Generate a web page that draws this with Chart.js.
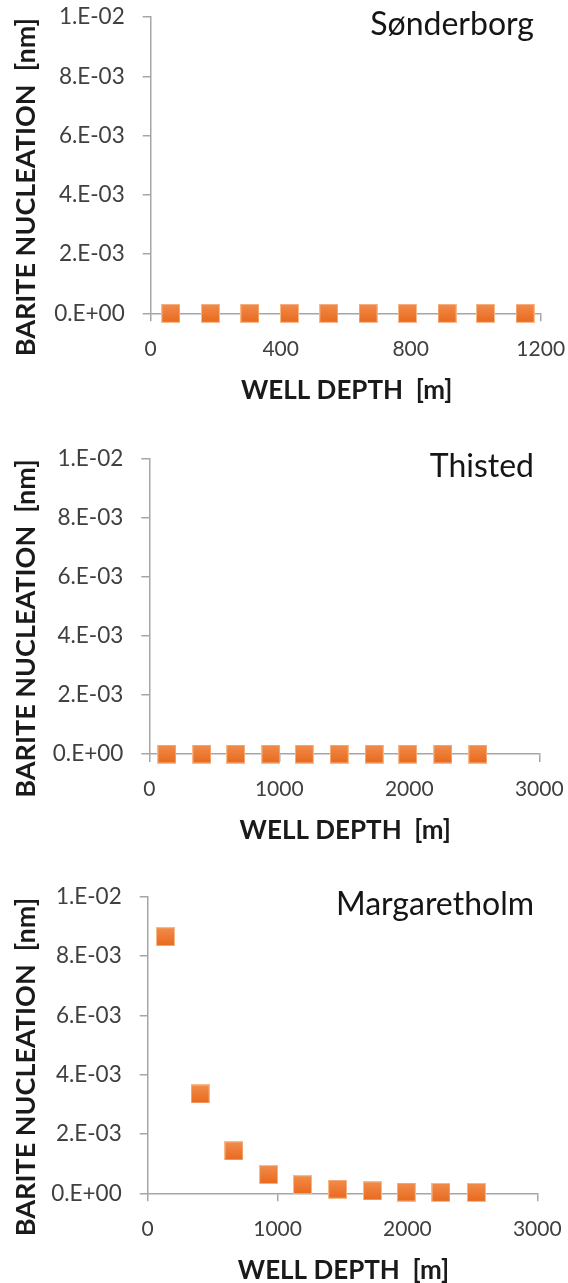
<!DOCTYPE html>
<html>
<head>
<meta charset="utf-8">
<script src="https://cdn.jsdelivr.net/npm/chart.js@4/dist/chart.umd.min.js"></script>
<style>
  html, body { margin: 0; padding: 0; background: #ffffff; }
  #page { position: relative; width: 568px; height: 1283px; overflow: hidden; }
  .panel { position: absolute; left: 0; width: 568px; }
</style>
</head>
<body>
<div id="page">
  <div class="panel" style="top:0px;height:425px"><canvas id="sonderborg"></canvas></div>
  <div class="panel" style="top:425px;height:430px"><canvas id="thisted"></canvas></div>
  <div class="panel" style="top:855px;height:428px"><canvas id="margaretholm"></canvas></div>
</div>
<script>
// Well depth [m] and barite nucleation [nm] for each site
const sonderborgDepth = [62, 184, 305, 427, 548, 669, 790, 912, 1030, 1152];
const sonderborgNucleation = [0, 0, 0, 0, 0, 0, 0, 0, 0, 0];

const thistedDepth = [135, 404, 665, 935, 1192, 1461, 1730, 1988, 2258, 2527];
const thistedNucleation = [0, 0, 0, 0, 0, 0, 0, 0, 0, 0];

const margaretholmDepth = [137, 404, 664, 931, 1192, 1462, 1731, 1991, 2258, 2531];
const margaretholmNucleation = [8.65e-3, 3.35e-3, 1.43e-3, 0.63e-3, 0.29e-3, 0.14e-3, 0.08e-3, 0.04e-3, 0.03e-3, 0.03e-3];

// Axis ticks and labels
const nucleationTicks = [0, 0.002, 0.004, 0.006, 0.008, 0.01];
const nucleationTickLabels = ['0.E+00', '2.E-03', '4.E-03', '6.E-03', '8.E-03', '1.E-02'];
const shallowDepthTicks = [0, 400, 800, 1200];
const deepDepthTicks = [0, 1000, 2000, 3000];

const siteNames = ['Sønderborg', 'Thisted', 'Margaretholm'];
const xTitle = 'WELL DEPTH  [m]';
const yTitle = 'BARITE NUCLEATION  [nm]';

const FONT = 'Lato, "Open Sans", sans-serif';
const AXIS_GREY = '#A6A6A6';

// Square orange marker with a soft vertical gradient and pale rim
function makeMarker(size) {
  const c = document.createElement('canvas');
  c.width = size; c.height = size;
  const g = c.getContext('2d');
  const grad = g.createLinearGradient(0, 0, 0, size);
  grad.addColorStop(0, '#F28D4C');
  grad.addColorStop(1, '#E8691D');
  g.fillStyle = '#F7B88C';
  g.fillRect(0, 0, size, size);
  g.fillStyle = grad;
  g.fillRect(1, 1, size - 2, size - 2);
  return c;
}
const marker = makeMarker(19);

// Site name, axis titles drawn relative to the plot area
const panelText = {
  id: 'panelText',
  afterDraw(chart, args, opts) {
    const ctx = chart.ctx;
    const a = chart.chartArea;
    ctx.save();
    ctx.fillStyle = '#151515';
    ctx.font = '32px ' + FONT;
    ctx.textAlign = 'right';
    ctx.textBaseline = 'alphabetic';
    ctx.fillText(opts.site, chart.width - 34, a.top + 18);

    ctx.fillStyle = '#1a1a1a';
    ctx.font = 'bold 26px ' + FONT;
    ctx.textAlign = 'center';
    ctx.textBaseline = 'middle';
    ctx.fillText(xTitle, (a.left + a.right) / 2 + 1, a.bottom + 77);

    ctx.font = 'bold 27px ' + FONT;
    ctx.translate(26, (a.top + a.bottom) / 2 + 22);
    ctx.rotate(-Math.PI / 2);
    ctx.fillText(yTitle, 0, 0);
    ctx.restore();
  }
};

const panels = [
  { id: 'sonderborg', site: siteNames[0], depth: sonderborgDepth, values: sonderborgNucleation, xTicks: shallowDepthTicks,
    height: 425, plotTop: 17, plotBottom: 313.3, plotLeft: 150.7, plotRight: 540.7 },
  { id: 'thisted', site: siteNames[1], depth: thistedDepth, values: thistedNucleation, xTicks: deepDepthTicks,
    height: 430, plotTop: 34, plotBottom: 329, plotLeft: 149.3, plotRight: 539.3 },
  { id: 'margaretholm', site: siteNames[2], depth: margaretholmDepth, values: margaretholmNucleation, xTicks: deepDepthTicks,
    height: 428, plotTop: 41.7, plotBottom: 338.3, plotLeft: 147.7, plotRight: 537.3 }
];

const X_AXIS_HEIGHT = 60;

panels.forEach(p => {
  const points = p.depth.map((d, i) => ({ x: d, y: p.values[i] }));
  new Chart(document.getElementById(p.id), {
    type: 'scatter',
    data: {
      datasets: [{
        data: points,
        pointStyle: marker,
        pointRadius: 9.5,
        pointHoverRadius: 9.5,
        clip: false
      }]
    },
    options: {
      responsive: true,
      maintainAspectRatio: false,
      animation: false,
      events: [],
      layout: {
        padding: {
          top: p.plotTop,
          left: 0,
          right: 568 - p.plotRight,
          bottom: p.height - p.plotBottom - X_AXIS_HEIGHT
        }
      },
      plugins: {
        legend: { display: false },
        tooltip: { enabled: false },
        panelText: { site: p.site }
      },
      scales: {
        x: {
          type: 'linear',
          min: p.xTicks[0],
          max: p.xTicks[p.xTicks.length - 1],
          afterBuildTicks: s => { s.ticks = p.xTicks.map(v => ({ value: v })); },
          afterFit: s => { s.height = X_AXIS_HEIGHT; s.paddingLeft = 0; s.paddingRight = 0; },
          grid: { display: true, drawOnChartArea: false, drawTicks: true, tickLength: 8, color: AXIS_GREY, lineWidth: 1.5 },
          border: { display: true, color: AXIS_GREY, width: 1.5 },
          ticks: {
            color: '#404040',
            font: { family: FONT, size: 21 },
            padding: 15,
            maxRotation: 0,
            autoSkip: false,
            callback: v => String(v)
          }
        },
        y: {
          type: 'linear',
          min: nucleationTicks[0],
          max: nucleationTicks[nucleationTicks.length - 1],
          afterBuildTicks: s => { s.ticks = nucleationTicks.map(v => ({ value: v })); },
          afterFit: s => { s.width = p.plotLeft; s.paddingTop = 0; s.paddingBottom = 0; },
          grid: { display: true, drawOnChartArea: false, drawTicks: true, tickLength: 8, color: AXIS_GREY, lineWidth: 1.5 },
          border: { display: true, color: AXIS_GREY, width: 1.5 },
          ticks: {
            color: '#404040',
            font: { family: FONT, size: 22.5 },
            padding: 18,
            autoSkip: false,
            callback: (v, i) => nucleationTickLabels[i]
          }
        }
      }
    },
    plugins: [panelText]
  });
});
</script>
</body>
</html>
